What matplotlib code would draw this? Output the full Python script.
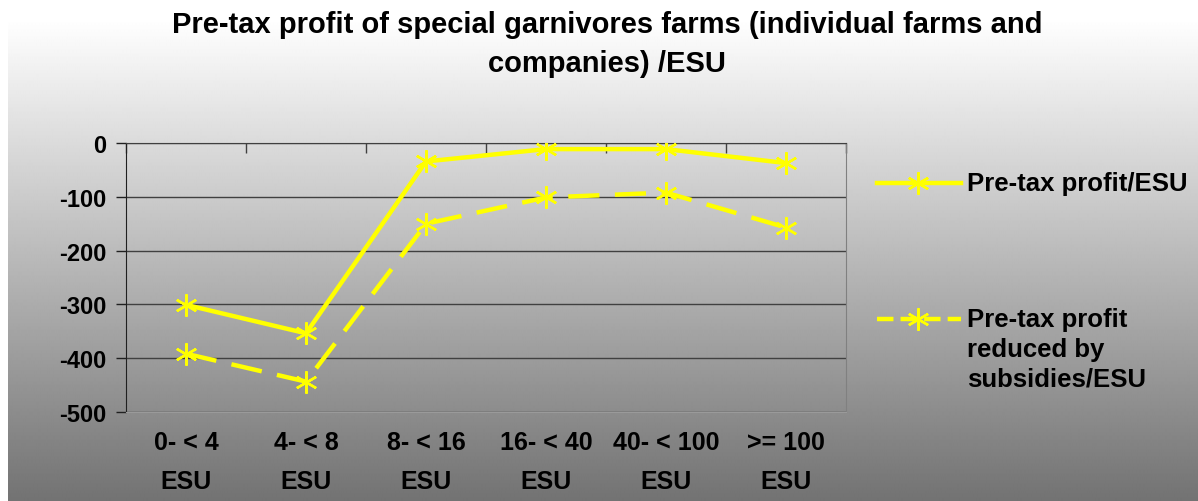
import numpy as np
import matplotlib.pyplot as plt
from matplotlib.lines import Line2D
from matplotlib.ticker import FixedLocator

categories = ["0- < 4\nESU", "4- < 8\nESU", "8- < 16\nESU",
              "16- < 40\nESU", "40- < 100\nESU", ">= 100\nESU"]
profit = [-301, -354, -34, -11, -11, -37]
profit_reduced = [-392, -444, -150, -101, -92, -157]
series_labels = ["Pre-tax profit/ESU", "Pre-tax profit\nreduced by\nsubsidies/ESU"]

plt.rcParams["font.family"] = ["Liberation Sans", "DejaVu Sans"]
plt.rcParams["font.weight"] = "bold"
plt.rcParams["axes.unicode_minus"] = False

fig = plt.figure(figsize=(11.98, 5.02), dpi=100)

# gradient background, white at top to grey at bottom
bg = fig.add_axes([0, 0, 1, 1], zorder=-10)
grad = np.clip((np.linspace(0, 1, 502) - 0.04) / 0.96, 0, 1)
vals = 1.0 - grad * (1.0 - 0.45)
img = np.repeat(vals[:, None], 10, axis=1)
bg.imshow(img, cmap="gray", vmin=0, vmax=1, aspect="auto",
          extent=[8 / 1198, 1, 0, 1], interpolation="bilinear")
bg.set_xlim(0, 1)
bg.set_ylim(0, 1)
bg.axis("off")

ax = fig.add_axes([126 / 1198, 1 - 412.7 / 502, 720 / 1198, 268.5 / 502])
ax.patch.set_alpha(0)

x = np.arange(len(categories)) + 0.5
star = (6, 2, 0)
yellow = "#ffff00"
l1, = ax.plot(x, profit, color=yellow, lw=3.2, marker=star, ms=16, mew=1.7,
              mec=yellow, zorder=3)
l2, = ax.plot(x, profit_reduced, color=yellow, lw=3.2, ls=(0, (7, 3.5)),
              marker=star, ms=16, mew=1.7, mec=yellow, zorder=3)

ax.set_xlim(0, len(categories))
ax.set_ylim(-500, 0)
ax.set_yticks(np.arange(-500, 1, 100))
ax.tick_params(axis="y", direction="out", length=7, width=1, labelsize=17,
               pad=7, color="#202020")
ax.yaxis.grid(True, color="#404040", lw=1)
ax.set_axisbelow(True)

ax.set_xticks(x, categories)
ax.tick_params(axis="x", which="major", length=0, labelsize=18, pad=13)
for t in ax.get_xticklabels():
    t.set_linespacing(1.8)
ax.xaxis.set_minor_locator(FixedLocator(range(len(categories) + 1)))
ax.tick_params(axis="x", which="minor", bottom=False, top=True,
               direction="in", length=7, width=1, color="#404040")

ax.spines["top"].set_color("#404040")
ax.spines["left"].set_color("#202020")
ax.spines["right"].set_color("#808080")
ax.spines["bottom"].set_color("#9a9a9a")

fig.text(607 / 1198, 1 - 33 / 502,
         "Pre-tax profit of special garnivores farms (individual farms and",
         ha="center", va="baseline", fontsize=21, fontweight="bold")
fig.text(607 / 1198, 1 - 72 / 502, "companies) /ESU",
         ha="center", va="baseline", fontsize=21, fontweight="bold")

# legend drawn by hand to match the layout
legend_rows = [(184, 184, l1), (320, 350, l2)]
for (ypix, ytext, line), label in zip(legend_rows, series_labels):
    yf = 1 - ypix / 502
    fig.add_artist(Line2D([877 / 1198, 961 / 1198], [yf, yf],
                          transform=fig.transFigure, color=yellow, lw=3.2,
                          ls=line.get_linestyle()))
    fig.add_artist(Line2D([918 / 1198], [yf], transform=fig.transFigure,
                          color=yellow, marker=star, ms=16, mew=1.7, ls="none"))
    fig.text(967 / 1198, 1 - ytext / 502, label, ha="left", va="center",
             fontsize=18.5, fontweight="bold", linespacing=1.3)

fig.savefig("out.png", dpi=100)
